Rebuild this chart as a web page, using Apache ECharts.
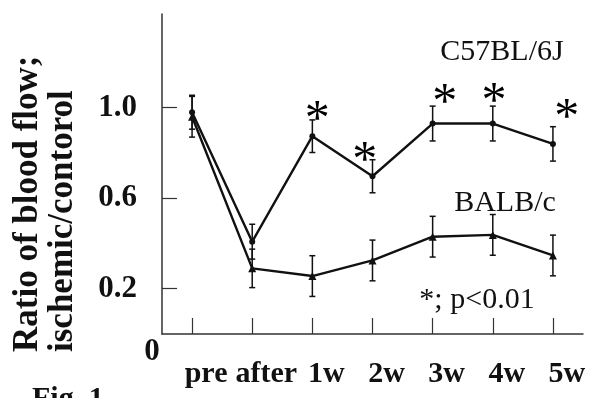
<!DOCTYPE html>
<html>
<head>
<meta charset="utf-8">
<script src="https://cdn.jsdelivr.net/npm/echarts@6/dist/echarts.min.js"></script>
<style>
  html, body { margin: 0; padding: 0; background: #fff; }
  #chart { width: 589px; height: 398px; }
</style>
</head>
<body>
<div id="chart"></div>
<script>
// data
var categories = ['pre', 'after', '1w', '2w', '3w', '4w', '5w'];
var c57Mean = [0.98, 0.408, 0.874, 0.697, 0.93, 0.93, 0.84];
var c57Err = [0.075, 0.077, 0.072, 0.073, 0.077, 0.077, 0.076];
var balbMean = [0.96, 0.29, 0.256, 0.325, 0.43, 0.438, 0.347];
var balbErr = [0.09, 0.085, 0.09, 0.09, 0.09, 0.09, 0.09];
var yTicks = [0.2, 0.6, 1.0];
// significance stars: [x position in category units, y value]
var stars = [[2.08, 0.98], [2.87, 0.80], [4.2, 1.055], [5.02, 1.06], [6.23, 0.99]];

var serif = "'Liberation Serif', 'Times New Roman', serif";
var black = '#111';

function errorBars(mean, err) {
  return mean.map(function (m, i) { return [i, m - err[i], m + err[i]]; });
}

function renderErr(params, api) {
  var x = api.value(0);
  var lo = api.coord([x, api.value(1)]);
  var hi = api.coord([x, api.value(2)]);
  var w = 3;
  var st = { stroke: black, lineWidth: 1.5 };
  return {
    type: 'group',
    children: [
      { type: 'line', shape: { x1: lo[0], y1: lo[1], x2: hi[0], y2: hi[1] }, style: st },
      { type: 'line', shape: { x1: lo[0] - w, y1: lo[1], x2: lo[0] + w, y2: lo[1] }, style: st },
      { type: 'line', shape: { x1: hi[0] - w, y1: hi[1], x2: hi[0] + w, y2: hi[1] }, style: st }
    ]
  };
}

var chart = echarts.init(document.getElementById('chart'));
var option = {
  animation: false,
  grid: { left: 162, right: 6, top: 14, bottom: 64, containLabel: false, outerBoundsMode: 'none' },
  xAxis: [{
    type: 'category',
    data: categories,
    boundaryGap: true,
    axisLine: { show: true, lineStyle: { color: '#333', width: 1.5 } },
    axisTick: { show: true, inside: true, alignWithLabel: true, interval: 0, length: 16, lineStyle: { color: '#333', width: 1.2 } },
    axisLabel: {
      interval: 0, margin: 25, color: black, hideOverlap: false,
      fontFamily: serif, fontWeight: 'bold', fontSize: 30,
      padding: [0, 0, 0, 28]
    }
  }, {
    type: 'value', min: -0.5, max: 6.5, show: false
  }],
  yAxis: {
    type: 'value',
    min: 0,
    max: 1.414,
    axisLine: { show: true, onZero: false, lineStyle: { color: '#333', width: 1.5 } },
    axisTick: { show: true, inside: true, length: 15, customValues: yTicks, lineStyle: { color: '#333', width: 1.2 } },
    axisLabel: {
      customValues: yTicks, margin: 25, color: black,
      fontFamily: serif, fontWeight: 'bold', fontSize: 31,
      formatter: function (v) { return v.toFixed(1); }
    },
    splitLine: { show: false }
  },
  series: [{
    name: 'C57BL/6J',
    type: 'line',
    data: c57Mean,
    symbol: 'circle',
    symbolSize: 6,
    itemStyle: { color: black },
    lineStyle: { color: black, width: 2.4 },
    z: 3
  }, {
    name: 'BALB/c',
    type: 'line',
    data: balbMean,
    symbol: 'triangle',
    symbolSize: 8,
    itemStyle: { color: black },
    lineStyle: { color: black, width: 2.4 },
    z: 3
  }, {
    type: 'custom',
    renderItem: renderErr,
    data: errorBars(c57Mean, c57Err),
    z: 2
  }, {
    type: 'custom',
    renderItem: renderErr,
    data: errorBars(balbMean, balbErr),
    z: 2
  }, {
    type: 'scatter',
    xAxisIndex: 1,
    data: stars,
    symbolSize: 0,
    itemStyle: { color: black, opacity: 1 },
    label: {
      show: true, position: 'inside', formatter: '*',
      fontFamily: serif, fontSize: 50, color: '#000', opacity: 1, offset: [0, 9]
    }
  }],
  graphic: [{
    type: 'text',
    x: 45, y: 352, rotation: Math.PI / 2,
    style: {
      text: 'Ratio of blood flow;\nischemic/contorol',
      font: 'bold 35px ' + serif, fill: black,
      align: 'left', verticalAlign: 'middle', lineHeight: 35
    }
  }, {
    type: 'text', x: 152, y: 352,
    style: { text: '0', font: 'bold 31px ' + serif, fill: black, align: 'center', verticalAlign: 'middle' }
  }, {
    type: 'text', x: 502, y: 52,
    style: { text: 'C57BL/6J', font: '30px ' + serif, fill: black, align: 'center', verticalAlign: 'middle' }
  }, {
    type: 'text', x: 505, y: 203,
    style: { text: 'BALB/c', font: '30px ' + serif, fill: black, align: 'center', verticalAlign: 'middle' }
  }, {
    type: 'text', x: 477, y: 300,
    style: { text: '*; p<0.01', font: '30px ' + serif, fill: black, align: 'center', verticalAlign: 'middle' }
  }, {
    type: 'text', x: 32, y: 384,
    style: { text: 'Fig. 1', font: 'bold 30px ' + serif, fill: black, align: 'left', verticalAlign: 'top' }
  }]
};
chart.setOption(option);
</script>
</body>
</html>
